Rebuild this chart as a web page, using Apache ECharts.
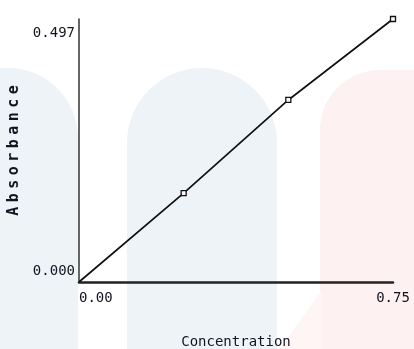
<!DOCTYPE html>
<html>
<head>
<meta charset="utf-8">
<script src="https://cdn.jsdelivr.net/npm/echarts@6/dist/echarts.min.js"></script>
<style>
  html, body { margin: 0; padding: 0; background: #ffffff; }
  #chart { width: 414px; height: 349px; }
</style>
</head>
<body>
<div id="chart"></div>
<script>
// Calibration standards: concentration vs. measured absorbance
var concentration = [0, 0.25, 0.5, 0.75];
var absorbance = [0, 0.168, 0.344, 0.497];
var xTicks = [0, 0.75];
var yTicks = [0, 0.497];

var MONO = '"DejaVu Sans Mono", "Liberation Mono", monospace';
var INK = '#141420';

var points = concentration.map(function (c, i) {
  var item = { value: [c, absorbance[i]] };
  if (c === 0) item.symbol = 'none';
  return item;
});

// Wide-spaced vertical axis title, one rich token per letter
var yTitle = 'Absorbance'.split('').map(function (ch) {
  return '{l|' + ch + '}';
}).join('');

var chart = echarts.init(document.getElementById('chart'), null, { renderer: 'canvas' });

chart.setOption({
  animation: false,
  backgroundColor: '#ffffff',
  graphic: [
    { type: 'rect', z: -10, silent: true,
      shape: { x: -80, y: 68, width: 158, height: 320, r: [70, 70, 0, 0] },
      style: { fill: '#eef3f8' } },
    { type: 'rect', z: -10, silent: true,
      shape: { x: 127, y: 68, width: 150, height: 320, r: [75, 75, 0, 0] },
      style: { fill: '#eef3f8' } },
    { type: 'rect', z: -10, silent: true,
      shape: { x: 320, y: 70, width: 160, height: 320, r: [60, 0, 0, 0] },
      style: { fill: '#fdf1f1' } },
    { type: 'polygon', z: -10, silent: true,
      shape: { points: [[322, 290], [322, 349], [280, 349]] },
      style: { fill: '#fef5f5' } }
  ],
  grid: { left: 79, right: 21, top: 19, bottom: 67, containLabel: false, outerBoundsMode: 'none' },
  xAxis: {
    type: 'value',
    min: xTicks[0],
    max: xTicks[1],
    interval: xTicks[1] - xTicks[0],
    name: 'Concentration',
    nameLocation: 'middle',
    nameGap: 53,
    nameTextStyle: { fontFamily: MONO, fontSize: 14, color: INK },
    axisLine: { show: true, lineStyle: { color: '#222222', width: 2.5 } },
    axisTick: { show: false },
    splitLine: { show: false },
    axisLabel: {
      fontFamily: MONO, fontSize: 14, color: INK, margin: 9,
      alignMinLabel: 'left', alignMaxLabel: 'center',
      formatter: function (v) { return v.toFixed(2); }
    }
  },
  yAxis: {
    type: 'value',
    min: yTicks[0],
    max: yTicks[1],
    interval: yTicks[1] - yTicks[0],
    name: yTitle,
    nameLocation: 'middle',
    nameGap: 48,
    nameTextStyle: {
      fontFamily: MONO, fontSize: 15, fontWeight: 'bold', color: INK,
      rich: { l: { fontFamily: MONO, fontSize: 15, fontWeight: 'bold', color: INK, width: 13.5, align: 'center' } }
    },
    axisLine: { show: true, lineStyle: { color: '#333333', width: 1.5 } },
    axisTick: { show: false },
    splitLine: { show: false },
    axisLabel: {
      fontFamily: MONO, fontSize: 14, color: INK, margin: 4,
      verticalAlignMinLabel: 'bottom', verticalAlignMaxLabel: 'top',
      padding: [7, 0, 4, 0],
      formatter: function (v) { return v.toFixed(3); }
    }
  },
  series: [{
    type: 'line',
    data: points,
    symbol: 'rect',
    symbolSize: 5,
    showAllSymbol: true,
    lineStyle: { color: '#111111', width: 1.7 },
    itemStyle: { color: '#ffffff', borderColor: '#111111', borderWidth: 1.3 },
    z: 3
  }]
});
</script>
</body>
</html>
